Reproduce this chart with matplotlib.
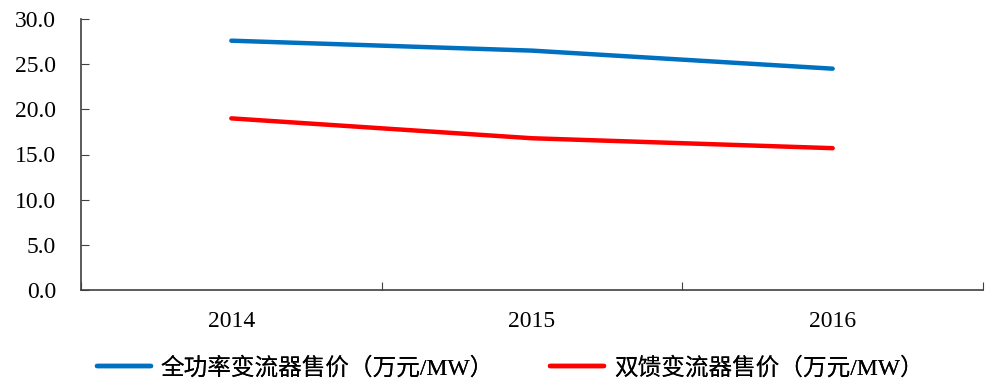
import matplotlib
matplotlib.use('Agg')
import matplotlib.pyplot as plt
import numpy as np

# 变流器售价（万元/MW）
years = ['2014', '2015', '2016']
full_power = [27.6, 26.5, 24.5]
dfig = [19.0, 16.8, 15.7]
labels = ['全功率变流器售价（万元/MW）', '双馈变流器售价（万元/MW）']

plt.rcParams['font.family'] = ['Liberation Serif', 'Noto Sans CJK SC']

fig = plt.figure(figsize=(9.92, 3.81), dpi=100)
ax = fig.add_axes([81 / 992, 1 - 290 / 381, 902 / 992, 271 / 381])

x = np.arange(len(years))
l1, = ax.plot(x, full_power, color='#0070C0', lw=3.2, solid_capstyle='round')
l2, = ax.plot(x, dfig, color='#FF0000', lw=3.2, solid_capstyle='round')

ax.set_xlim(-0.5, len(years) - 0.5)
ax.set_ylim(0, 30)
ax.set_yticks(np.arange(0, 30.1, 5))
ax.set_yticklabels([f'{v:.1f}' for v in np.arange(0, 30.1, 5)])

# category labels centred, tick marks on the boundaries
ax.set_xticks(np.arange(-0.5, len(years), 1))
ax.set_xticklabels([])
ax.set_xticks(x, minor=True)
ax.set_xticklabels(years, minor=True)
ax.tick_params(axis='x', which='minor', length=0, pad=15, labelsize=17)
ax.tick_params(axis='x', which='major', direction='in', length=6, color='#404040')
ax.tick_params(axis='y', direction='in', length=6, color='#404040', labelsize=17, pad=18)

for s in ['top', 'right']:
    ax.spines[s].set_visible(False)
for s in ['left', 'bottom']:
    ax.spines[s].set_color('#404040')
    ax.spines[s].set_linewidth(1.2)

# two legend entries, each placed on its own
for line, lab, x0 in [(l1, labels[0], 97), (l2, labels[1], 550)]:
    leg = fig.legend([line], [lab], loc='center left', bbox_to_anchor=(x0 / 992, 1 - 368 / 381),
                     frameon=False, fontsize=17, handlelength=2.3, handletextpad=0.4,
                     borderpad=0, borderaxespad=0)
    fig.add_artist(leg)

plt.savefig('out.png', dpi=100)
